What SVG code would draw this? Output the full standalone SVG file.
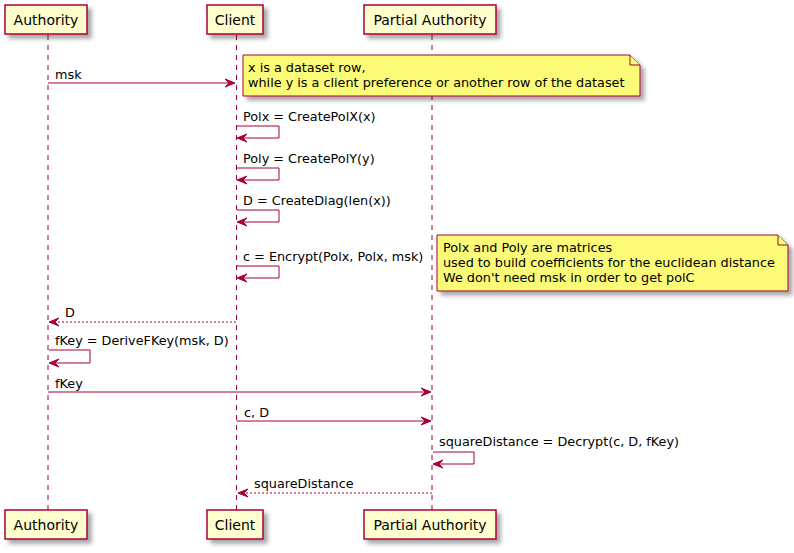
<svg xmlns="http://www.w3.org/2000/svg" width="794" height="553" viewBox="0 0 794 553">
  <defs>
    <filter id="shadow" x="-10%" y="-10%" width="130%" height="150%">
      <feGaussianBlur in="SourceAlpha" stdDeviation="2"/>
      <feOffset dx="4" dy="4" result="blur"/>
      <feComponentTransfer><feFuncA type="linear" slope="0.35"/></feComponentTransfer>
      <feMerge><feMergeNode/><feMergeNode in="SourceGraphic"/></feMerge>
    </filter>
  </defs>
  <style>
    text { font-family: "DejaVu Sans", "Liberation Sans", sans-serif; fill: #000; }
    .pbox { fill: #FEFECE; stroke: #A80036; stroke-width: 1.5; }
    .pname { font-size: 14px; text-anchor: middle; }
    .life { stroke: #A80036; stroke-width: 1; stroke-dasharray: 5,5; fill: none; }
    .note { fill: #FBFB77; stroke: #A80036; stroke-width: 1; }
    .fold { fill: #FBFB77; stroke: #A80036; stroke-width: 1; }
    .msg { stroke: #A80036; stroke-width: 1; fill: none; }
    .ret { stroke: #A80036; stroke-width: 1; fill: none; stroke-dasharray: 2,2; }
    .head { fill: #A80036; stroke: #A80036; stroke-width: 1; }
    .lbl { font-size: 12.8px; }
  </style>

  <!-- lifelines -->
  <g id="lifelines">
    <line class="life" x1="48" y1="35" x2="48" y2="510"/>
    <line class="life" x1="236.5" y1="35" x2="236.5" y2="510"/>
    <line class="life" x1="432" y1="35" x2="432" y2="510"/>
  </g>

  <!-- participants -->
  <g id="authority" filter="url(#shadow)">
    <rect class="pbox" x="5" y="5" width="82" height="29"/>
    <rect class="pbox" x="5" y="510" width="82" height="29"/>
  </g>
  <g id="authority-labels">
    <text class="pname" x="46" y="25">Authority</text>
    <text class="pname" x="46" y="530">Authority</text>
  </g>
  <g id="client" filter="url(#shadow)">
    <rect class="pbox" x="207" y="5" width="56" height="29"/>
    <rect class="pbox" x="207" y="510" width="56" height="29"/>
  </g>
  <g id="client-labels">
    <text class="pname" x="235" y="25">Client</text>
    <text class="pname" x="235" y="530">Client</text>
  </g>
  <g id="partial-authority" filter="url(#shadow)">
    <rect class="pbox" x="364" y="5" width="132" height="29"/>
    <rect class="pbox" x="364" y="510" width="132" height="29"/>
  </g>
  <g id="partial-authority-labels">
    <text class="pname" x="430" y="25">Partial Authority</text>
    <text class="pname" x="430" y="530">Partial Authority</text>
  </g>

  <!-- notes -->
  <g id="note-dataset">
    <path class="note" filter="url(#shadow)" d="M243,55 L630,55 L640,65 L640,96 L243,96 Z"/>
    <path class="fold" d="M630,55 L630,65 L640,65"/>
    <text class="lbl" x="248" y="72">x is a dataset row,</text>
    <text class="lbl" x="248" y="87">while y is a client preference or another row of the dataset</text>
  </g>
  <g id="note-matrices">
    <path class="note" filter="url(#shadow)" d="M437,235 L778,235 L788,245 L788,291 L437,291 Z"/>
    <path class="fold" d="M778,235 L778,245 L788,245"/>
    <text class="lbl" x="443" y="252">Polx and Poly are matrices</text>
    <text class="lbl" x="443" y="267">used to build coefficients for the euclidean distance</text>
    <text class="lbl" x="443" y="282">We don't need msk in order to get polC</text>
  </g>

  <!-- messages -->
  <g id="connectors">
    <!-- msk -->
    <line class="msg" x1="48" y1="83" x2="234" y2="83"/>
    <polygon class="head" points="235,83 225,79 229,83 225,87"/>
    <text class="lbl" x="55" y="79">msk</text>

    <!-- Polx = CreatePolX(x) -->
    <polyline class="msg" points="237,126 279,126 279,138 238,138"/>
    <polygon class="head" points="237,138 247,134 243,138 247,142"/>
    <text class="lbl" x="243" y="121">Polx = CreatePolX(x)</text>

    <!-- Poly = CreatePolY(y) -->
    <polyline class="msg" points="237,168 279,168 279,180 238,180"/>
    <polygon class="head" points="237,180 247,176 243,180 247,184"/>
    <text class="lbl" x="243" y="163">Poly = CreatePolY(y)</text>

    <!-- D = CreateDiag(len(x)) -->
    <polyline class="msg" points="237,210 279,210 279,222 238,222"/>
    <polygon class="head" points="237,222 247,218 243,222 247,226"/>
    <text class="lbl" x="243" y="205">D = CreateDiag(len(x))</text>

    <!-- c = Encrypt(Polx, Polx, msk) -->
    <polyline class="msg" points="237,266 279,266 279,278 238,278"/>
    <polygon class="head" points="237,278 247,274 243,278 247,282"/>
    <text class="lbl" x="243" y="261">c = Encrypt(Polx, Polx, msk)</text>

    <!-- D (return) -->
    <line class="ret" x1="236" y1="322" x2="50" y2="322"/>
    <polygon class="head" points="49,322 59,318 55,322 59,326"/>
    <text class="lbl" x="65" y="317">D</text>

    <!-- fKey = DeriveFKey(msk, D) -->
    <polyline class="msg" points="49,350 90,350 90,363 50,363"/>
    <polygon class="head" points="49,363 59,359 55,363 59,367"/>
    <text class="lbl" x="55" y="345">fKey = DeriveFKey(msk, D)</text>

    <!-- fKey -->
    <line class="msg" x1="48" y1="392" x2="430" y2="392"/>
    <polygon class="head" points="431,392 421,388 425,392 421,396"/>
    <text class="lbl" x="55" y="388">fKey</text>

    <!-- c, D -->
    <line class="msg" x1="236.5" y1="421" x2="430" y2="421"/>
    <polygon class="head" points="431,421 421,417 425,421 421,425"/>
    <text class="lbl" x="244" y="417">c, D</text>

    <!-- squareDistance = Decrypt(c, D, fKey) -->
    <polyline class="msg" points="433,452 474,452 474,464 434,464"/>
    <polygon class="head" points="433,464 443,460 439,464 443,468"/>
    <text class="lbl" x="439" y="446">squareDistance = Decrypt(c, D, fKey)</text>

    <!-- squareDistance (return) -->
    <line class="ret" x1="432" y1="493" x2="239" y2="493"/>
    <polygon class="head" points="238,493 248,489 244,493 248,497"/>
    <text class="lbl" x="254" y="488">squareDistance</text>
  </g>
</svg>
